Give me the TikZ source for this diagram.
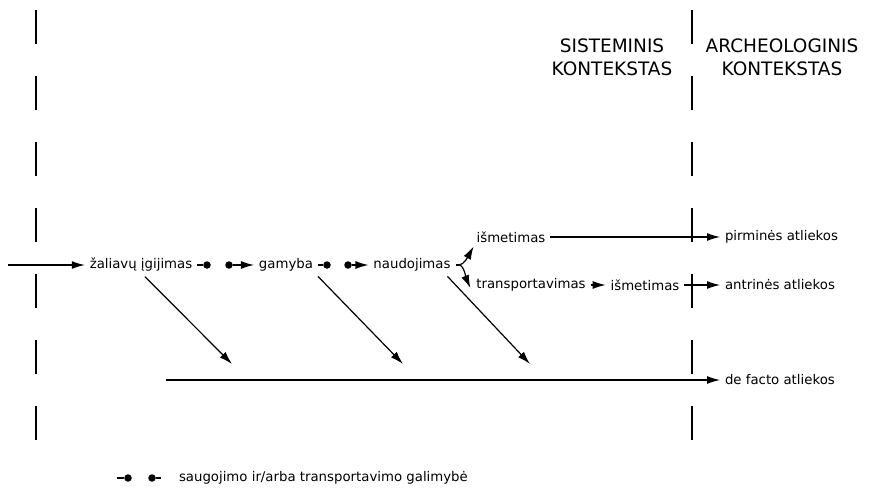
\documentclass[tikz,border=0pt]{standalone}
\usepackage{fontspec}
\setmainfont{DejaVu Sans}
\usetikzlibrary{positioning}
\usetikzlibrary{calc}
\usetikzlibrary{arrows.meta}
\tikzset{every picture/.style={line width=1.2pt}}

\begin{document}
\begin{tikzpicture}[x=1pt,y=-1pt,
  lbl/.style={inner sep=2pt,outer sep=3pt,font=\fontsize{13.3}{16}\selectfont},
  head/.style={align=center,inner sep=0pt,font=\fontsize{18.5}{23}\selectfont},
  dot/.style={circle,fill,inner sep=0pt,minimum size=7.5pt},
  arr/.style={-{Latex[length=13pt,width=8pt]}},
  border/.style={line width=1.8pt,dash pattern=on 34pt off 32pt}]
\useasboundingbox (0,0) rectangle (874,492);
% context borders
\draw[border] (36,10) -- (36,440);
\draw[border] (692,10) -- (692,440);
\node (sis) at (612,57) [head] {SISTEMINIS\\KONTEKSTAS};
\node (arch) at (782,57) [head] {ARCHEOLOGINIS\\KONTEKSTAS};
% main row
\coordinate (in) at (8,265);
\node (zal) at (141,265) [lbl] {žaliavų įgijimas};
\node (gam) at (286,265) [lbl] {gamyba};
\node (nau) at (412,265) [lbl] {naudojimas};
\node (za) at (207,265) [dot] {};
\node (zb) at (229,265) [dot] {};
\node (ga) at (327,265) [dot] {};
\node (gb) at (348,265) [dot] {};
\coordinate (fk) at (459,265);
\node (ism1) at (511,237) [lbl] {išmetimas};
\node (trans) at (531,285) [lbl] {transportavimas};
\node (ism2) at (645,285) [lbl] {išmetimas};
\node (pirm) at (720,237) [lbl,anchor=west] {pirminės atliekos};
\node (antr) at (720,285) [lbl,anchor=west] {antrinės atliekos};
\node (def) at (720,380) [lbl,anchor=west] {de facto atliekos};
\draw[arr] (in) -- (zal);
\draw (zal) -- (za);
\draw[arr] (zb) -- (gam);
\draw (gam) -- (ga);
\draw[arr] (gb) -- (nau);
\draw (nau) -- (fk);
\draw[arr] (fk) .. controls +(5,0) and +(-5,9) .. ($(ism1.south west)+(2,-1)$);
\draw[arr] (fk) .. controls +(5,0) and +(-4,-9) .. ($(trans.west)+(-1,3)$);
\draw[arr] (ism1) -- (pirm);
\draw[arr] (trans) -- (ism2);
\draw[arr] (ism2) -- (antr);
% discarded on the spot
\coordinate (t1) at (232,364);
\coordinate (t2) at (403,364);
\coordinate (t3) at (530,364);
\coordinate (dfs) at (166,380);
\draw[arr] ($(zal.south)+(4,0)$) -- (t1);
\draw[arr] (gam.south east) -- (t2);
\draw[arr] ($(nau.south east)+(-8,0)$) -- (t3);
\draw[arr] (dfs) -- (def);
% legend
\coordinate (l0) at (117,478);
\node (l1) at (128,478) [dot] {};
\node (l2) at (152,478) [dot] {};
\coordinate (l3) at (161,478);
\node (leg) at (174,478) [lbl,anchor=west] {saugojimo ir/arba transportavimo galimybė};
\draw (l0) -- (l1);
\draw (l2) -- (l3);
\end{tikzpicture}
\end{document}
